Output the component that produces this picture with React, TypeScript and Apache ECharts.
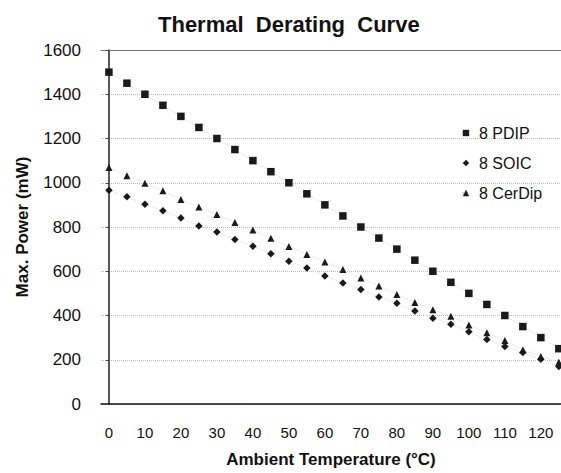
import React, { useEffect, useRef } from "react";
import * as echarts from "echarts";

const temperatures = [0, 5, 10, 15, 20, 25, 30, 35, 40, 45, 50, 55, 60, 65, 70, 75, 80, 85, 90, 95, 100, 105, 110, 115, 120, 125];
const pdip = [1500, 1450, 1400, 1350, 1300, 1250, 1200, 1150, 1100, 1050, 1000, 950, 900, 850, 800, 750, 700, 650, 600, 550, 500, 450, 400, 350, 300, 250];
const soic = [966, 937, 903, 873, 841, 805, 777, 743, 713, 679, 645, 615, 579, 547, 518, 484, 455, 420, 388, 360, 327, 291, 260, 233, 202, 169];
const cerdip = [1069, 1032, 998, 964, 924, 890, 857, 820, 786, 749, 712, 676, 642, 608, 570, 533, 495, 459, 426, 397, 357, 322, 287, 245, 215, 189];
const xTickLabels = [0, 10, 20, 30, 40, 50, 60, 70, 80, 90, 100, 110, 120];
const seriesNames = ["8 PDIP", "8 SOIC", "8 CerDip"];

const FONT = "'Liberation Sans', Arial, Helvetica, sans-serif";

export default function App() {
  const ref = useRef<HTMLDivElement>(null);
  useEffect(() => {
    if (!ref.current) return;
    const chart = echarts.init(ref.current, null, { renderer: "svg" });
    const mk = (vals: number[]) => temperatures.map((t, i) => [t, vals[i]]);
    const sets = [
      { name: seriesNames[0], data: pdip, symbol: "rect", size: 7.5 },
      { name: seriesNames[1], data: soic, symbol: "diamond", size: 7.5 },
      { name: seriesNames[2], data: cerdip, symbol: "triangle", size: 7 },
    ];
    chart.setOption({
      animation: false,
      backgroundColor: "#ffffff",
      title: {
        text: "Thermal  Derating  Curve",
        left: 153,
        top: 8,
        textStyle: { fontFamily: FONT, fontSize: 22, fontWeight: "bold", color: "#111" },
      },
      legend: {
        orient: "vertical",
        left: 456,
        top: 120,
        itemWidth: 8,
        itemHeight: 8,
        itemGap: 14,
        textStyle: { fontFamily: FONT, fontSize: 16, color: "#111", padding: [0, 0, 0, 4] },
        data: seriesNames,
      },
      grid: { left: 101, top: 50, right: 0, bottom: 64 },
      xAxis: [
        {
          type: "value",
          min: -2.2,
          max: 125.6,
          name: "Ambient Temperature (°C)",
          nameLocation: "middle",
          nameGap: 47,
          nameTextStyle: { fontFamily: FONT, fontSize: 17, fontWeight: "bold", color: "#111" },
          axisLine: { show: true, onZero: false, lineStyle: { color: "#111", width: 1.5 } },
          axisTick: { show: false },
          splitLine: { show: false },
          axisLabel: {
            customValues: xTickLabels,
            formatter: (v: number) => String(v),
            fontFamily: FONT,
            fontSize: 15,
            color: "#111",
            margin: 21,
          },
        },
        {
          type: "value",
          position: "top",
          min: -2.2,
          max: 125.6,
          axisLine: { show: true, onZero: false, lineStyle: { color: "#777", width: 1 } },
          axisTick: { show: false },
          axisLabel: { show: false },
          splitLine: { show: false },
        },
      ],
      yAxis: {
        type: "value",
        min: 0,
        max: 1600,
        interval: 200,
        name: "Max. Power (mW)",
        nameLocation: "middle",
        nameGap: 70,
        nameTextStyle: { fontFamily: FONT, fontSize: 17, fontWeight: "bold", color: "#111" },
        axisLine: { show: true, lineStyle: { color: "#222", width: 1.5 } },
        axisTick: { show: true, length: 3, lineStyle: { color: "#444" } },
        axisLabel: {
          formatter: (v: number) => String(v),
          fontFamily: FONT,
          fontSize: 17,
          color: "#111",
          margin: 20,
        },
        splitLine: { show: true, lineStyle: { color: "#bbb", type: "dotted", width: 1 } },
      },
      series: sets.map((s) => ({
        name: s.name,
        type: "line",
        xAxisIndex: 0,
        data: mk(s.data),
        symbol: s.symbol,
        symbolSize: s.size,
        showAllSymbol: true,
        itemStyle: { color: "#1a1a1a" },
        lineStyle: { color: "#d8d8d8", width: 1, type: "dotted" },
      })),
    });
    return () => chart.dispose();
  }, []);
  return <div ref={ref} style={{ position: "absolute", left: 0, top: 0, width: 561, height: 473 }} />;
}
